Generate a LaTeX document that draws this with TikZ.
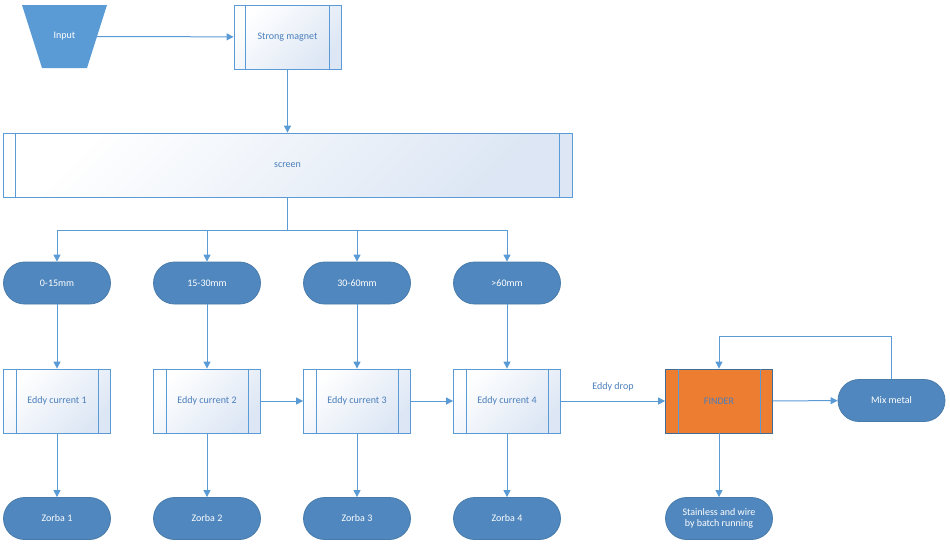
\documentclass[tikz,border=0pt]{standalone}
\usepackage{fontspec}
\setmainfont{Carlito}
\usetikzlibrary{shapes.geometric,arrows.meta}
\definecolor{lnc}{HTML}{5B9BD5}
\definecolor{pill}{HTML}{4F87BE}
\definecolor{txt}{HTML}{4A7EBB}
\definecolor{lite}{HTML}{DCE6F4}
\definecolor{org}{HTML}{ED7D31}
\tikzset{
  fnt/.style={font=\fontsize{10}{11.5}\selectfont},
  pp/.style={draw=lnc,line width=0.8pt,minimum height=64pt,text=txt,fnt,
    top color=white,bottom color=lite,shading angle=45},
  pill/.style={draw=lnc!80!black,line width=0.8pt,fill=pill,rounded corners=21pt,minimum width=107pt,minimum height=42pt,text=white,fnt,align=center},
  ar/.style={draw=lnc,line width=1pt,-{Triangle[length=7pt,width=7pt]}},
  ln/.style={draw=lnc,line width=1pt},
}
\newcommand{\bars}[2]{\draw[ln,line width=0.8pt] ([xshift=#2]#1.north west)--([xshift=#2]#1.south west) ([xshift=-#2]#1.north east)--([xshift=-#2]#1.south east);}
\begin{document}
\begin{tikzpicture}[x=1pt,y=-1pt]
\useasboundingbox (0,0) rectangle (950,547);
\fill[fill=lnc] (22,5) -- (107,5) -- (87,68) -- (42,68) -- cycle;
\node[inner sep=0pt,minimum width=85pt,minimum height=63pt,text=white,fnt] (in) at (64.5,36.5) {Input};
\node[pp,minimum width=107pt] (sm) at (287.5,37) {Strong magnet};
\bars{sm}{12pt}
\node[pp,minimum width=569pt] (sc) at (287.5,165) {screen};
\bars{sc}{13pt}
\draw[ar] ([xshift=-10pt]in.east) -- (sm);
\draw[ar] (sm) -- (sc);
\foreach \i/\x/\t in {1/57/0-15mm,2/207/15-30mm,3/357/30-60mm,4/507/>60mm}{
  \node[pill] (p\i) at (\x,283) {\t};
  \node[pp,minimum width=107pt] (e\i) at (\x,401) {Eddy current \i};
  \bars{e\i}{13pt}
  \node[pill] (z\i) at (\x,518.5) {Zorba \i};
  \draw[ar] (p\i) -- (e\i);
  \draw[ar] (e\i) -- (z\i);
}
\coordinate (j) at (287.5,230);
\draw[ln] (sc.south) -- (j);
\draw[ln] (p1.north|-j) -- (p4.north|-j);
\foreach \i in {1,...,4} \draw[ar] (p\i.north|-j) -- (p\i);
\draw[ar] (e2) -- (e3);
\draw[ar] (e3) -- (e4);
\node[draw=lnc!70!black,line width=0.8pt,fill=org,minimum width=107pt,minimum height=64pt,text=txt,fnt] (f) at (719,401) {FINDER};
\bars{f}{13pt}
\draw[ar] (e4) -- node[above=6pt,text=txt,fnt]{Eddy drop} (f);
\node[pill] (mm) at (891.5,400.5) {Mix metal};
\node[pill] (st) at (719,518.5) {Stainless and wire\\by batch running};
\draw[ar] (f) -- (mm);
\draw[ar] (f) -- (st);
\coordinate (t) at (891.5,336);
\draw[ar] (mm.north) -- (t) -| (f.north);
\end{tikzpicture}
\end{document}
